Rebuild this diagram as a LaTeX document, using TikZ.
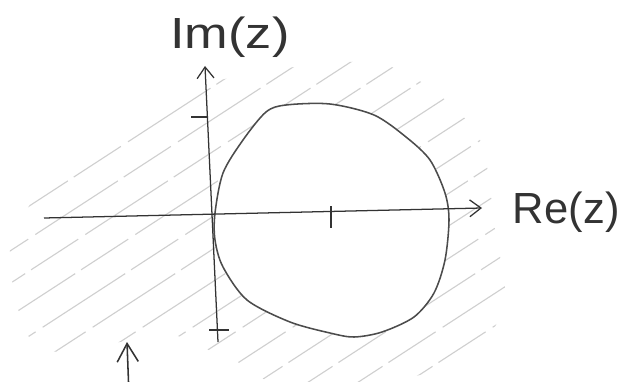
\documentclass[tikz,border=0pt]{standalone}
\usepackage{fontspec}
\setmainfont{Liberation Sans}
\usetikzlibrary{arrows.meta}

\begin{document}
\begin{tikzpicture}[
    x=0.025cm, y=-0.025cm,
    axis/.style={line width=0.9pt, black!80, -{Straight Barb[length=8pt, width=12pt]}},
    tickmark/.style={line width=0.9pt, black!80},
    hatch/.style={line width=0.8pt, gray!38, dash pattern=on 70pt off 5pt on 40pt off 6pt},
    lbl/.style={font=\fontsize{31}{34}\selectfont, black!80}
  ]
  \clip (0,0) rectangle (623,381);
  % --- Hatched region outside the circle ---
  \begin{scope}[even odd rule]
  \clip
    plot[smooth cycle] coordinates {(10,250) (40,190) (90,140) (170,95) (260,72) (370,62)
      (430,88) (480,140) (495,230) (505,300) (480,345) (420,375) (300,390) (230,362)
      (170,335) (60,352) (25,330)}
    plot[smooth cycle] coordinates {(215,213) (223,173) (243,140) (266,112) (286,105)
      (330,104) (374,115) (406,137) (430,160) (445,193) (449,220) (445,260) (434,293)
      (414,317) (382,332) (354,337) (330,333) (290,322) (247,300) (223,267) (215,240)};
  \foreach \k in {-700,-650,...,500}
    \draw[hatch] (\k,420) -- ++(760,-494);
  \end{scope}
  % --- Circle ---
  \draw[line width=1.1pt, black!70] plot[smooth cycle] coordinates {(215,213) (223,173)
    (243,140) (266,112) (286,105) (330,104) (374,115) (406,137) (430,160) (445,193)
    (449,220) (445,260) (434,293) (414,317) (382,332) (354,337) (330,333) (290,322)
    (247,300) (223,267) (215,240)};
  % --- Axes ---
  \coordinate (xstart) at (44,218);
  \coordinate (xend) at (482,208);
  \coordinate (ystart) at (218,342);
  \coordinate (yend) at (205,66);
  \draw[axis] (xstart) -- (xend);
  \draw[axis] (ystart) -- (yend);
  \node[lbl, anchor=west] (re) at (508,212) {Re(z)};
  \node[lbl, xscale=1.2] (im) at (230,37) {Im(z)};
  % ticks
  \draw[tickmark] (191,117) -- (208,117);
  \draw[tickmark] (209,330) -- (229,330);
  \draw[tickmark] (331,206) -- (331,228);
  % --- Arrow at bottom ---
  \coordinate (afoot) at (129,395);
  \coordinate (atip) at (127,342);
  \draw[axis, line width=1.1pt, -{Straight Barb[length=13pt, width=15pt]}] (afoot) -- (atip);
\end{tikzpicture}
\end{document}
